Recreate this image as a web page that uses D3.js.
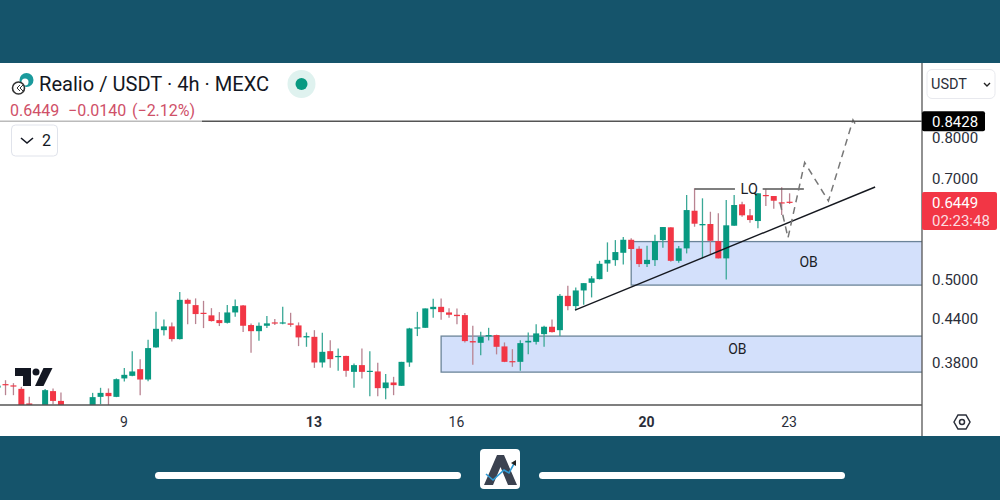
<!DOCTYPE html>
<html>
<head>
<meta charset="utf-8">
<script src="https://cdnjs.cloudflare.com/ajax/libs/d3/7.8.5/d3.min.js"></script>
<style>
html, body { margin: 0; padding: 0; background: #fff; overflow: hidden; }
text { font-family: Roboto, sans-serif; }
</style>
</head>
<body>
<script>
// candles, 4h, oldest first
var opens = [.3491,.3532,.3517,.3477,.3313,.3230,.3240,.3451,.3341,.3220,.3170,.3190,.3262,.3386,.3431,.3386,.3599,.3630,.3711,.3586,
  .3988,.4222,.4275,.4099,.4668,.4587,.4472,.4434,.4365,.4326,.4477,.4582,.4294,.4208,.4284,.4332,.4322,.4318,.4289,.4122,
  .4130,.3794,.3939,.3861,.3877,.3678,.3761,.3683,.3683,.3485,.3551,.3512,.3794,.4246,.4255,.4526,.4561,.4477,.4443,.4438,
  .4072,.4049,.4136,.4154,.4001,.3811,.3802,.4054,.4062,.4167,.4270,.4222,.4730,.4572,.4815,.4938,.4999,.5264,.5323,.5454,
  .5694,.5527,.5254,.5323,.5688,.5933,.5311,.5534,.6268,.5973,.5999,.5669,.5354,.5965,.6403,.6174,.6058,.6603,.6581,.6445,.6458];
var closes = [.3514,.3520,.3505,.3220,.3262,.3190,.3462,.3341,.3251,.3180,.3210,.3230,.3383,.3431,.3394,.3590,.3642,.3683,.3586,.3979,
  .4241,.4275,.4099,.4668,.4607,.4453,.4457,.4351,.4322,.4477,.4572,.4284,.4208,.4284,.4318,.4318,.4332,.4298,.4122,.4140,
  .3794,.3930,.3836,.3877,.3691,.3761,.3678,.3691,.3485,.3551,.3520,.3802,.4246,.4261,.4537,.4561,.4482,.4443,.4423,.4072,
  .4054,.4130,.4154,.3996,.3802,.3802,.4045,.4076,.4177,.4270,.4195,.4730,.4572,.4815,.4933,.5011,.5259,.5328,.5467,.5694,
  .5522,.5254,.5328,.5669,.5939,.5311,.5534,.6282,.6005,.5999,.5675,.5354,.5973,.6388,.6174,.6078,.6640,.6581,.6479,.6424,.6449];
var highs = [.3532,.3578,.3543,.3500,.3386,.3270,.3474,.3482,.3436,.3250,.3240,.3270,.3431,.3489,.3482,.3599,.3724,.3939,.3836,.4089,
  .4486,.4375,.4332,.4789,.4690,.4690,.4652,.4541,.4482,.4587,.4674,.4590,.4318,.4332,.4423,.4380,.4561,.4472,.4332,.4190,
  .4222,.4185,.4085,.3975,.3880,.3782,.3975,.3939,.3790,.3651,.3618,.3802,.4255,.4486,.4537,.4683,.4690,.4541,.4537,.4467,
  .4284,.4199,.4255,.4160,.4054,.3965,.4085,.4190,.4304,.4284,.4375,.4757,.4889,.4864,.4933,.5049,.5311,.5645,.5688,.5746,
  .5721,.5571,.5583,.5790,.5939,.5933,.5577,.6603,.6751,.6531,.6247,.6215,.6494,.6603,.6458,.6303,.6640,.6728,.6581,.6773,.6640];
var lows = [.3474,.3405,.3405,.3180,.3220,.3150,.3200,.3305,.3200,.3150,.3140,.3160,.3230,.3305,.3289,.3383,.3563,.3626,.3405,.3566,
  .3983,.4149,.4068,.4095,.4304,.4308,.4251,.4344,.4280,.4318,.4413,.4195,.3917,.4076,.4251,.4294,.4304,.4270,.4005,.3996,
  .3727,.3732,.3727,.3691,.3618,.3489,.3599,.3394,.3394,.3360,.3405,.3512,.3740,.4140,.4255,.4399,.4369,.4399,.4304,.4054,
  .3765,.3887,.4081,.3897,.3798,.3740,.3691,.3900,.4028,.3996,.4190,.4140,.4511,.4511,.4592,.4705,.4994,.5121,.5224,.5248,
  .5323,.5202,.5202,.5219,.5546,.5294,.5276,.5443,.5945,.5354,.5413,.5354,.4994,.5965,.6145,.6025,.5914,.6367,.6310,.6180,.6409];

// axis
var priceTicks = [0.8, 0.7, 0.5, 0.44, 0.38];
var timeTickIndex = [16, 40, 58, 82, 100];
var timeTickLabels = ['9', '13', '16', '20', '23'];
var boldTimeLabels = ['13', '20'];

// drawings on the chart, as [candle index, price]
var topLevel = 0.8428;
var lastPrice = 0.6449;
var trendLine = [[72.9, .4511], [110.8, .6780]];
var lqLeft = [[88, .6735], [93.1, .6735]];
var lqRight = [[96.6, .6735], [101.8, .6735]];
var dashedPath = [[98.8, .6430], [99.8, .5732], [101.9, .7355], [104.9, .6473], [108, .8463], [108.5, .8267]];
var obBoxes = [
  {start: 80, top: .5660, bottom: .4901, label: 'OB', labelIndex: 102.4, labelPrice: .5290},
  {start: 56, top: .4140, bottom: .3675, label: 'OB', labelIndex: 93.4, labelPrice: .3965}
];

var width = 1000;
var height = 500;
var paneRight = 922;
var paneBottom = 405;
var barTop = 63;
var barBottom = 436;
var navy = '#15546b';
var green = '#089981';
var red = '#f23645';

var x = d3.scaleLinear().domain([0, 100]).range([-2.4, 789.6]);
var y = d3.scaleLog().domain([0.8, 0.38]).range([137, 362]);

var svg = d3.select('body').append('svg')
    .attr('width', width)
    .attr('height', height)
    .style('display', 'block');

svg.append('defs').append('clipPath').attr('id', 'pane')
  .append('rect').attr('x', 0).attr('y', barTop).attr('width', paneRight).attr('height', paneBottom - barTop);

svg.append('rect').attr('width', width).attr('height', barTop).attr('fill', navy);
svg.append('rect').attr('y', barBottom).attr('width', width).attr('height', height - barBottom).attr('fill', navy);

var pane = svg.append('g').attr('clip-path', 'url(#pane)');

// order blocks sit behind the candles
var boxes = pane.selectAll('.ob').data(obBoxes).enter().append('rect')
    .attr('class', 'ob')
    .attr('x', d => x(d.start))
    .attr('y', d => y(d.top))
    .attr('width', d => paneRight + 4 - x(d.start))
    .attr('height', d => y(d.bottom) - y(d.top))
    .attr('fill', '#d3e0fb')
    .attr('stroke', '#6b8499')
    .attr('stroke-width', 1.3);

var candles = d3.range(opens.length);
var isUp = i => closes[i] >= opens[i];

pane.selectAll('.wick').data(candles).enter().append('line')
    .attr('class', 'wick')
    .attr('x1', i => x(i)).attr('x2', i => x(i))
    .attr('y1', i => y(highs[i])).attr('y2', i => y(lows[i]))
    .attr('stroke', i => isUp(i) ? '#3aa896' : '#b98391')
    .attr('stroke-width', 1.3);

pane.selectAll('.body').data(candles).enter().append('rect')
    .attr('class', 'body')
    .attr('x', i => x(i) - 3)
    .attr('width', 6)
    .attr('y', i => y(Math.max(opens[i], closes[i])))
    .attr('height', i => Math.max(1.2, Math.abs(y(opens[i]) - y(closes[i]))))
    .attr('fill', i => isUp(i) ? green : red);

var line = d3.line().x(d => x(d[0])).y(d => y(d[1]));

pane.append('path').attr('d', line(trendLine))
    .attr('fill', 'none').attr('stroke', '#15181f').attr('stroke-width', 1.4);
[lqLeft, lqRight].forEach(d => {
    pane.append('path').attr('d', line(d))
        .attr('fill', 'none').attr('stroke', '#555').attr('stroke-width', 1.4);
});
pane.append('path').attr('d', line(dashedPath))
    .attr('fill', 'none').attr('stroke', '#777').attr('stroke-width', 1.5).attr('stroke-dasharray', '7 5');

pane.selectAll('.oblabel').data(obBoxes).enter().append('text')
    .attr('x', d => x(d.labelIndex))
    .attr('y', d => y(d.labelPrice) + 5)
    .attr('text-anchor', 'middle')
    .attr('font-size', 14)
    .attr('fill', '#1a1d26')
    .text(d => d.label);

pane.append('text')
    .attr('x', x(94.9)).attr('y', y(.6735) + 5)
    .attr('font-size', 14.5).attr('text-anchor', 'middle').attr('fill', '#1a1d26')
    .text('LQ');

// level line and pane frame
svg.append('line').attr('x1', 0).attr('x2', paneRight).attr('y1', y(topLevel)).attr('y2', y(topLevel))
    .attr('stroke', '#555').attr('stroke-width', 1.3);
svg.append('line').attr('x1', 0).attr('x2', paneRight).attr('y1', paneBottom).attr('y2', paneBottom)
    .attr('stroke', '#555').attr('stroke-width', 1.6);
svg.append('line').attr('x1', paneRight).attr('x2', paneRight).attr('y1', barTop).attr('y2', barBottom)
    .attr('stroke', '#555').attr('stroke-width', 1.3);

// price axis
var priceAxis = d3.axisRight(y).tickValues(priceTicks).tickFormat(d3.format('.4f')).tickSize(0).tickPadding(0);
var gPrice = svg.append('g').attr('transform', 'translate(' + (paneRight + 10) + ',1)').call(priceAxis);
gPrice.select('.domain').remove();
gPrice.selectAll('text').attr('font-size', 15).attr('font-family', 'Roboto, sans-serif').attr('fill', '#2a2e39');

// time axis
var timeAxis = d3.axisBottom(x).tickValues(timeTickIndex)
    .tickFormat((d, i) => timeTickLabels[i]).tickSize(0).tickPadding(0);
var gTime = svg.append('g').attr('transform', 'translate(-1,' + (paneBottom + 12) + ')').call(timeAxis);
gTime.select('.domain').remove();
gTime.selectAll('text')
    .attr('font-size', 14).attr('font-family', 'Roboto, sans-serif').attr('fill', '#2a2e39')
    .attr('font-weight', (d, i) => boldTimeLabels.includes(timeTickLabels[i]) ? 700 : 400);

// price tags
svg.append('rect').attr('x', paneRight).attr('y', y(topLevel) - 10).attr('width', 63).attr('height', 20).attr('rx', 2).attr('fill', '#000');
svg.append('text').attr('x', paneRight + 10).attr('y', y(topLevel) + 5.5).attr('font-size', 15).attr('fill', '#fff').text(d3.format('.4f')(topLevel));

svg.append('rect').attr('x', paneRight).attr('y', 192).attr('width', 75).attr('height', 38).attr('rx', 2).attr('fill', red);
svg.append('text').attr('x', paneRight + 10).attr('y', y(lastPrice) + 6).attr('font-size', 15).attr('fill', '#fff').text(d3.format('.4f')(lastPrice));
svg.append('text').attr('x', paneRight + 10).attr('y', 226).attr('font-size', 15).attr('fill', '#fbdde0').text('02:23:48');

// currency selector
svg.append('rect').attr('x', 927).attr('y', 69.5).attr('width', 68).attr('height', 29).attr('rx', 5)
    .attr('fill', '#fff').attr('stroke', '#e8e9ee');
svg.append('text').attr('x', 931).attr('y', 89).attr('font-size', 14.5).attr('fill', '#2a2e39').text('USDT');
svg.append('path').attr('d', 'M984 83l3 3l3 -3').attr('fill', 'none').attr('stroke', '#222').attr('stroke-width', 1.4);

// header
svg.append('rect').attr('x', 0).attr('y', 101).attr('width', 202).attr('height', 21).attr('fill', '#fff').attr('opacity', 0.6);
svg.append('text').attr('x', 39).attr('y', 91).attr('font-size', 20.1).attr('fill', '#131722').text('Realio / USDT \u00b7 4h \u00b7 MEXC');
svg.append('g').selectAll('text').data([[10, '0.6449'], [68, '\u22120.0140'], [132, '(\u22122.12%)']]).enter().append('text')
    .attr('x', d => d[0]).attr('y', 116).attr('font-size', 16).attr('fill', '#cf5068').text(d => d[1]);

svg.append('circle').attr('cx', 301.5).attr('cy', 84).attr('r', 14).attr('fill', '#dff2ef');
svg.append('circle').attr('cx', 301.5).attr('cy', 84).attr('r', 6).attr('fill', green);

// symbol icon
svg.append('circle').attr('cx', 26.5).attr('cy', 80).attr('r', 7).attr('fill', '#1a9a9c');
svg.append('circle').attr('cx', 25).attr('cy', 82).attr('r', 3.5).attr('fill', '#fff');
svg.append('circle').attr('cx', 18.5).attr('cy', 88).attr('r', 6).attr('fill', '#fff').attr('stroke', '#333').attr('stroke-width', 1.6);
svg.append('path').attr('d', 'M20 85l-3 3l3 3M23 85l-3 3l3 3').attr('fill', 'none').attr('stroke', '#333').attr('stroke-width', 1);

// collapse button
svg.append('rect').attr('x', 11.5).attr('y', 125).attr('width', 46).attr('height', 31).attr('rx', 4)
    .attr('fill', '#fff').attr('stroke', '#e0e3eb');
svg.append('path').attr('d', 'M21 138l6 5l6 -5').attr('fill', 'none').attr('stroke', '#131722').attr('stroke-width', 1.6);
svg.append('text').attr('x', 42).attr('y', 146).attr('font-size', 16).attr('fill', '#131722').text('2');

// tradingview mark
var tv = svg.append('g').attr('fill', '#131722');
tv.append('path').attr('d', 'M15 368H31V386H23V376H15Z');
tv.append('circle').attr('cx', 36).attr('cy', 372).attr('r', 3.5);
tv.append('path').attr('d', 'M43.5 368H52.5L43.5 386H35Z');

// gear on the axis corner
svg.append('path').attr('d', 'M954 422l4 -7h8l4 7l-4 7h-8Z').attr('fill', 'none').attr('stroke', '#2a2e39').attr('stroke-width', 1.5);
svg.append('circle').attr('cx', 962).attr('cy', 422).attr('r', 2.5).attr('fill', 'none').attr('stroke', '#2a2e39').attr('stroke-width', 1.5);

// footer
svg.append('rect').attr('x', 155).attr('y', 472).attr('width', 306).attr('height', 7).attr('rx', 3.5).attr('fill', '#fff');
svg.append('rect').attr('x', 539).attr('y', 472).attr('width', 306).attr('height', 7).attr('rx', 3.5).attr('fill', '#fff');
svg.append('rect').attr('x', 480).attr('y', 449).attr('width', 40).attr('height', 40).attr('rx', 4).attr('fill', '#fff');
svg.append('path').attr('d', 'M484 485L497 455H504L517 485H508L500.500 467L493 485Z').attr('fill', '#3b4250');
svg.append('path').attr('d', 'M486 474L493 480L504 470L509 473L515 462').attr('fill', 'none').attr('stroke', '#2e9bd6').attr('stroke-width', 1.6);
svg.append('path').attr('d', 'M511 463L516 460L516 466Z').attr('fill', '#222');
</script>
</body>
</html>
